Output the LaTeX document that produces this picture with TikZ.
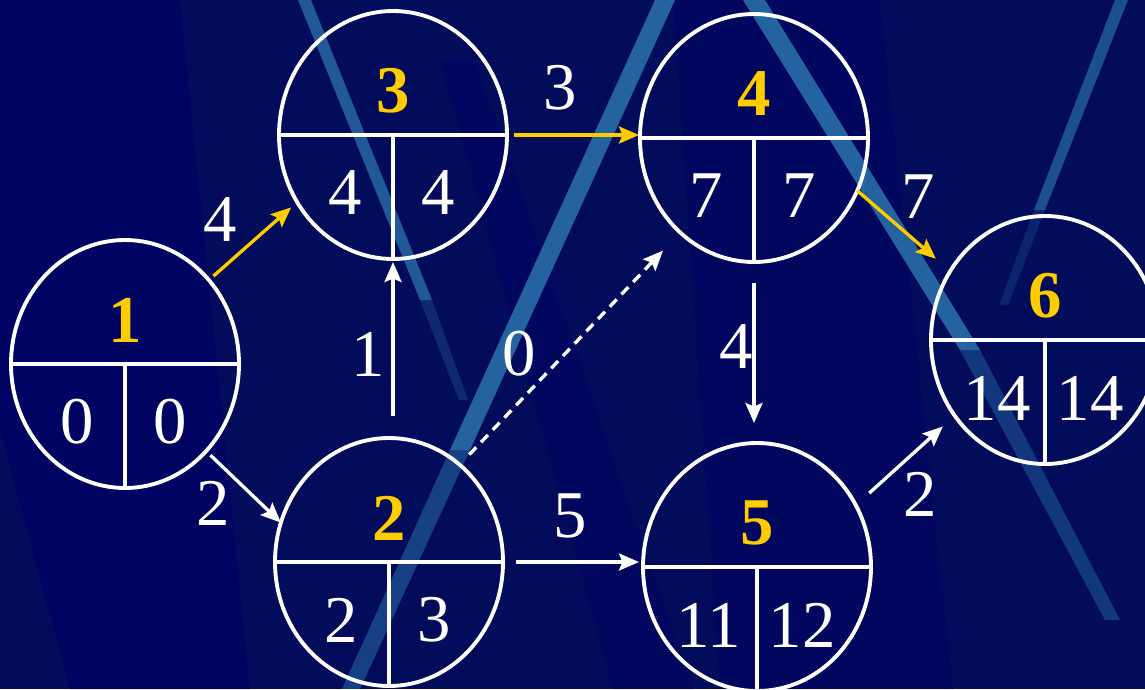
\documentclass[tikz,border=0pt]{standalone}
\usepackage{fontspec}
\setmainfont{Liberation Serif}
\usetikzlibrary{arrows.meta, positioning, calc, shapes.geometric}
\definecolor{navy}{RGB}{3,12,90}
\definecolor{royal}{RGB}{0,0,102}
\definecolor{streak}{RGB}{40,108,168}
\definecolor{gold}{RGB}{255,204,0}

% one event circle: name, position, number, earliest, latest
\newcommand{\eventnode}[5]{%
  \node[event] (#1) at (#2) {};
  \draw[cell] (#1.west) -- (#1.east);
  \draw[cell] (#1.center) -- (#1.south);
  \node[idnum] (#1id) at ([yshift=4.4mm]#1.center) {#3};
  \node[tnum] (#1e) at ([shift={(-4.8mm,-5.8mm)}]#1.center) {#4};
  \node[tnum] (#1l) at ([shift={(4.5mm,-5.8mm)}]#1.center) {#5};
}

\begin{document}
\begin{tikzpicture}[x=0.1mm, y=-0.1mm,
    event/.style={ellipse, draw=white, line width=1.1pt, inner sep=0pt, outer sep=0pt,
                  minimum width=2.28cm, minimum height=2.48cm},
    cell/.style={white, line width=1.1pt},
    idnum/.style={text=gold, font=\fontsize{19}{21}\selectfont\bfseries, inner sep=1pt},
    tnum/.style={text=white, font=\fontsize{19}{21}\selectfont, inner sep=1pt},
    lbl/.style={text=white, font=\fontsize{19}{21}\selectfont, inner sep=1pt},
    harr/.style={-{Stealth[length=2mm, width=1.7mm, inset=0.35mm]}, white, line width=0.95pt},
    darr/.style={harr, dash pattern=on 1mm off 0.7mm},
  ]
  \useasboundingbox (0,0) rectangle (1145,689);
  \clip (0,0) rectangle (1145,689);

  % background
  \fill[navy] (0,0) rectangle (1145,689);
  \fill[royal, opacity=0.7] (-116,0) -- (180,0) -- (250,689) -- (70,689) -- cycle;
  \fill[royal, opacity=0.4] (440,60) -- (475,60) -- (693,689) -- (613,689) -- cycle;
  \fill[royal, opacity=0.4] (673,0) -- (880,0) -- (953,689) -- (720,689) -- cycle;
  \fill[streak, opacity=0.8] (298,0) -- (311,0) -- (432,300) -- (420,300) -- cycle;
  \fill[streak, opacity=0.3] (420,300) -- (432,300) -- (468,400) -- (459,400) -- cycle;
  \fill[streak, opacity=0.9] (655,0) -- (675,0) -- (470,450) -- (450,450) -- cycle;
  \fill[streak, opacity=0.55] (450,450) -- (470,450) -- (360,689) -- (342,689) -- cycle;
  \fill[streak, opacity=0.9] (743,0) -- (765,0) -- (980,350) -- (960,350) -- cycle;
  \fill[streak, opacity=0.45] (960,350) -- (980,350) -- (1120,620) -- (1105,620) -- cycle;
  \fill[streak, opacity=0.7] (1115,0) -- (1128,0) -- (1045,210) -- (1034,210) -- cycle;
  \fill[streak, opacity=0.25] (1034,210) -- (1045,210) -- (1008,305) -- (999,305) -- cycle;

  % events
  \eventnode{n1}{125,364}{1}{0}{0}
  \eventnode{n3}{393,135}{3}{4}{4}
  \eventnode{n4}{754,138}{4}{7}{7}
  \eventnode{n2}{389,562}{2}{2}{3}
  \eventnode{n5}{757,567}{5}{11}{12}
  \eventnode{n6}{1045,340}{6}{14}{14}

  % activities
  \draw[harr, gold, shorten <=0.6mm, shorten >=0.8mm] (n1.45) -- (n3.215);
  \draw[harr, shorten <=0.6mm] (n1.313) -- (n2.160);
  \draw[harr, gold, shorten <=0.7mm, shorten >=0.1mm] (n3.east) -- (n3.east -| n4.west);
  \draw[harr, shorten <=2.2mm, shorten >=0.3mm] (n2.north -| n3.south) -- (n3.south);
  \draw[darr, shorten <=1.4mm, shorten >=2.5mm] (n2.54) -- (n4.232);
  \draw[harr, shorten <=1.3mm, shorten >=0.4mm] (n2.east) -- (n2.east -| n5.west);
  \draw[harr, shorten <=2.1mm, shorten >=2mm] (n4.south) -- (n4.south |- n5.north);
  \draw[harr, gold, shorten >=1.9mm] (n4.333) -- (n6.144);
  \draw[harr, shorten <=1.8mm, shorten >=1.6mm] (n5.32) -- (n6.220);

  % durations
  \node[lbl] (w13) at (220,220) {4};
  \node[lbl] (w12) at (213,503) {2};
  \node[lbl] (w34) at (560,88) {3};
  \node[lbl] (w23) at (368,354) {1};
  \node[lbl] (w24) at (519,354) {0};
  \node[lbl] (w25) at (570,516) {5};
  \node[lbl] (w45) at (736,347) {4};
  \node[lbl] (w46) at (918,197) {7};
  \node[lbl] (w56) at (920,494) {2};
\end{tikzpicture}
\end{document}
